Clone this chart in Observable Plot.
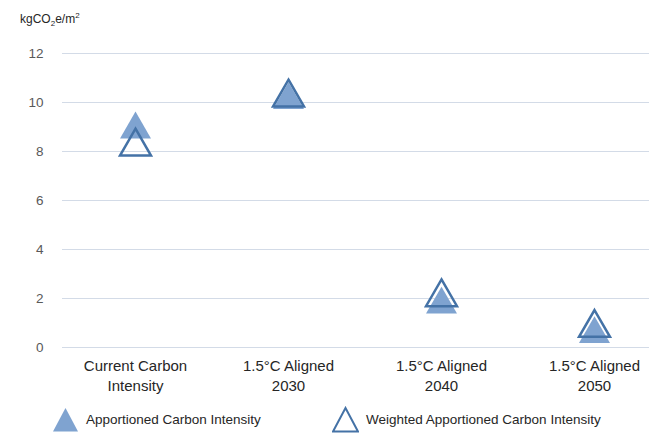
<!DOCTYPE html>
<html>
<head>
<meta charset="utf-8">
<script src="https://cdn.jsdelivr.net/npm/d3@7"></script>
<script src="https://cdn.jsdelivr.net/npm/@observablehq/plot@0.6"></script>
<style>
  body { margin: 0; background: #fff; }
  #wrap { position: relative; width: 649px; height: 437px; font-family: "Liberation Sans", Arial, sans-serif; }
  #ytitle { position: absolute; left: 20px; top: 11px; font-size: 12px; color: #262626; }
  #ytitle sub { font-size: 8px; vertical-align: -3px; }
  #ytitle sup { font-size: 8px; vertical-align: 5px; }
  #legend { position: absolute; left: 0; top: 406px; width: 649px; height: 30px; font-size: 13.5px; color: #262626; }
  .item { position: absolute; top: 0; display: flex; align-items: center; }
  .item svg { margin-right: 7px; }
</style>
</head>
<body>
<div id="wrap">
  <div id="chart"></div>
  <div id="ytitle">kgCO<sub>2</sub>e/m<sup>2</sup></div>
  <div id="legend"></div>
</div>
<script>
// Scenario categories (x axis) and carbon intensity per scenario, kgCO2e/m2
const categories = [
  "Current Carbon\nIntensity",
  "1.5°C Aligned\n2030",
  "1.5°C Aligned\n2040",
  "1.5°C Aligned\n2050"
];
const apportioned = [8.9, 10.1, 1.75, 0.55];
const weightedApportioned = [8.2, 10.2, 2.05, 0.8];
const yTicks = [0, 2, 4, 6, 8, 10, 12];

const seriesNames = ["Apportioned Carbon Intensity", "Weighted Apportioned Carbon Intensity"];
const fillBlue = "#7fa3d0";
const strokeBlue = "#4472a6";

const rowsA = categories.map((c, i) => ({category: c, value: apportioned[i]}));
const rowsW = categories.map((c, i) => ({category: c, value: weightedApportioned[i]}));

const chart = Plot.plot({
  width: 649,
  height: 437,
  marginLeft: 62,
  marginRight: 0,
  marginTop: 53,
  marginBottom: 90,
  style: {fontFamily: "'Liberation Sans', Arial, sans-serif", background: "transparent"},
  x: {type: "point", domain: categories, range: [134, 594], padding: 0, axis: null},
  y: {domain: [0, 12], ticks: yTicks, axis: null},
  marks: [
    Plot.gridY(yTicks, {stroke: "#d3dbe7", strokeOpacity: 1, strokeWidth: 1.2}),
    Plot.axisY(yTicks, {tickSize: 0, tickPadding: 19, fontSize: 13.5, fill: "#595959", label: null}),
    Plot.text(categories, {
      x: d => d, frameAnchor: "bottom", dy: 10, lineAnchor: "top",
      lineHeight: 1.3, fontSize: 15, fill: "#262626", text: d => d
    }),
    Plot.dot(rowsA, {x: "category", y: "value", symbol: "triangle", r: 11.5, fill: fillBlue, stroke: "none"}),
    Plot.dot(rowsW, {x: "category", y: "value", symbol: "triangle", r: 11.5, fill: "none", stroke: strokeBlue, strokeWidth: 2.5})
  ]
});
document.getElementById("chart").append(chart);

// Legend below the plot
const legend = d3.select("#legend");
const legendItems = [
  {name: seriesNames[0], left: 52, fill: fillBlue, stroke: "none", sw: 0},
  {name: seriesNames[1], left: 332, fill: "none", stroke: strokeBlue, sw: 2}
];
for (const it of legendItems) {
  const div = legend.append("div").attr("class", "item").style("left", it.left + "px");
  const svg = div.append("svg").attr("width", 27).attr("height", 27);
  svg.append("path")
    .attr("d", "M13.5,2 L26,25.5 L1,25.5 Z")
    .attr("fill", it.fill).attr("stroke", it.stroke).attr("stroke-width", it.sw);
  div.append("span").text(it.name);
}
</script>
</body>
</html>
